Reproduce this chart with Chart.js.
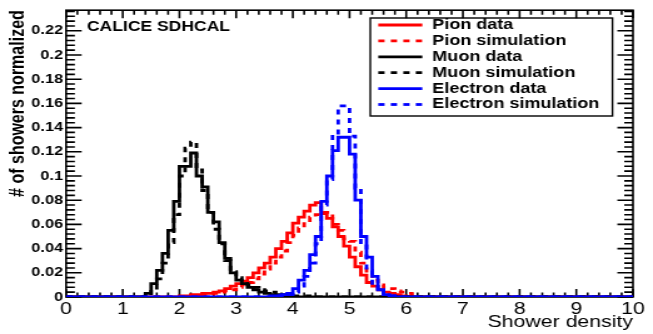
<!DOCTYPE html>
<html>
<head>
<meta charset="utf-8">
<script src="https://cdn.jsdelivr.net/npm/chart.js@4.4.1/dist/chart.umd.min.js"></script>
<style>
  html, body { margin: 0; padding: 0; background: #fff; overflow: hidden; }
</style>
</head>
<body>
<!-- the original picture is stretched sideways, so the canvas is drawn narrow and widened -->
<canvas id="chart" width="522" height="334" style="display:block;width:653px;height:334px"></canvas>
<script>
// histogram binning and axis ticks
const binWidth = 0.1;
const xMin = 0;
const xMax = 10;
const yMax = 0.237;
const xTicks = [0, 1, 2, 3, 4, 5, 6, 7, 8, 9, 10];
const yTicks = [0, 0.02, 0.04, 0.06, 0.08, 0.1, 0.12, 0.14, 0.16, 0.18, 0.2, 0.22];
const yTickLabels = ['0', '0.02', '0.04', '0.06', '0.08', '0.1', '0.12', '0.14', '0.16', '0.18', '0.2', '0.22'];
const xMinorStep = 0.2;
const yMinorStep = 0.004;

const seriesNames = ['Pion data', 'Pion simulation', 'Muon data', 'Muon simulation', 'Electron data', 'Electron simulation'];

// bin contents, first bin starts at the given x
const pionDataStart = 2.0;
const pionData = [0.001, 0.001, 0.002, 0.002, 0.003, 0.003, 0.004, 0.005, 0.007, 0.009,
                  0.011, 0.013, 0.016, 0.020, 0.024, 0.028, 0.033, 0.040, 0.046, 0.053,
                  0.061, 0.066, 0.071, 0.076, 0.078, 0.069, 0.065, 0.058, 0.050, 0.042,
                  0.033, 0.025, 0.018, 0.012, 0.009, 0.006, 0.004, 0.003, 0.002, 0.001];

const pionSimStart = 2.1;
const pionSim = [0.0005, 0.001, 0.001, 0.002, 0.002, 0.003, 0.004, 0.005, 0.006,
                 0.008, 0.010, 0.012, 0.015, 0.019, 0.023, 0.028, 0.033, 0.038, 0.045,
                 0.051, 0.057, 0.062, 0.066, 0.068, 0.070, 0.070, 0.060, 0.055, 0.048,
                 0.046, 0.037, 0.028, 0.020, 0.014, 0.010, 0.008, 0.007, 0.005, 0.004,
                 0.003, 0.002];

const muonDataStart = 1.4;
const muonData = [0.003, 0.011, 0.022, 0.036, 0.055, 0.079, 0.108, 0.108, 0.119, 0.100,
                  0.091, 0.070, 0.062, 0.045, 0.032, 0.020, 0.014, 0.011, 0.008, 0.006,
                  0.004, 0.003, 0.002, 0.002, 0.001, 0.001];

const muonSimStart = 1.4;
const muonSim = [0.001, 0.006, 0.015, 0.028, 0.045, 0.068, 0.100, 0.123, 0.128, 0.105,
                 0.088, 0.070, 0.056, 0.044, 0.030, 0.021, 0.016, 0.013, 0.010, 0.008,
                 0.006, 0.005, 0.004, 0.003, 0.002, 0.002, 0.001, 0.001, 0.001];

const electronDataStart = 3.6;
const electronData = [0.001, 0.001, 0.002, 0.003, 0.007, 0.014, 0.022, 0.035, 0.050, 0.079,
                      0.100, 0.121, 0.132, 0.132, 0.118, 0.080, 0.050, 0.033, 0.017, 0.006,
                      0.002, 0.001];

const electronSimStart = 3.7;
const electronSim = [0.001, 0.001, 0.002, 0.004, 0.009, 0.017, 0.028, 0.044, 0.076, 0.097,
                     0.134, 0.158, 0.158, 0.133, 0.090, 0.045, 0.022, 0.010, 0.004, 0.002,
                     0.001];

const font = 'Liberation Sans, Arial, Helvetica, sans-serif';

// bin contents -> step points over the whole axis (empty bins are 0)
function histPoints(start, values) {
  const nBins = Math.round((xMax - xMin) / binWidth);
  const first = Math.round((start - xMin) / binWidth);
  const pts = [];
  for (let i = 0; i < nBins; i++) {
    const k = i - first;
    pts.push({ x: +(xMin + i * binWidth).toFixed(2), y: (k >= 0 && k < values.length) ? values[k] : 0 });
  }
  pts.push({ x: xMax, y: 0 });
  return pts;
}

function histSet(name, start, values, color, dashed, order) {
  return {
    label: name,
    data: histPoints(start, values),
    borderColor: color,
    backgroundColor: color,
    borderWidth: 2.8,
    borderDash: dashed ? [5, 5] : [],
    borderCapStyle: 'butt',
    borderJoinStyle: 'miter',
    stepped: 'before',
    pointRadius: 0,
    fill: false,
    order: order
  };
}

// frame with ticks on all four sides, drawn under the histograms
const frameTicks = {
  id: 'frameTicks',
  beforeDatasetsDraw(chart) {
    const { ctx, chartArea: a, scales: { x, y } } = chart;
    ctx.save();
    ctx.strokeStyle = '#000';
    ctx.lineWidth = 1.6;
    ctx.strokeRect(a.left, a.top, a.right - a.left, a.bottom - a.top);
    ctx.beginPath();
    const nx = Math.round((xMax - xMin) / xMinorStep);
    for (let i = 0; i <= nx; i++) {
      const px = x.getPixelForValue(xMin + i * xMinorStep);
      const len = i % 5 === 0 ? 8 : 4.5;
      ctx.moveTo(px, a.bottom); ctx.lineTo(px, a.bottom - len);
      ctx.moveTo(px, a.top); ctx.lineTo(px, a.top + len);
    }
    for (let i = 0; i * yMinorStep <= yMax + 1e-9; i++) {
      const py = y.getPixelForValue(i * yMinorStep);
      const len = i % 5 === 0 ? 12.5 : 7;
      ctx.moveTo(a.left, py); ctx.lineTo(a.left + len, py);
      ctx.moveTo(a.right, py); ctx.lineTo(a.right - len, py);
    }
    ctx.stroke();
    ctx.restore();
  }
};

// boxed legend and the experiment label
const boxLegend = {
  id: 'boxLegend',
  afterDatasetsDraw(chart) {
    const ctx = chart.ctx;
    ctx.save();
    ctx.strokeStyle = '#000';
    ctx.lineWidth = 1.4;
    ctx.strokeRect(296, 18, 193.6, 98);
    ctx.font = 'bold 14.4px ' + font;
    ctx.textBaseline = 'middle';
    ctx.textAlign = 'left';
    chart.data.datasets.forEach((ds, i) => {
      const yy = 25 + i * 15.9;
      ctx.beginPath();
      ctx.strokeStyle = ds.borderColor;
      ctx.lineWidth = 2.8;
      ctx.setLineDash(ds.borderDash);
      ctx.moveTo(302.4, yy);
      ctx.lineTo(337.6, yy);
      ctx.stroke();
      ctx.setLineDash([]);
      ctx.fillStyle = '#000';
      ctx.fillText(ds.label, 345.6, yy);
    });
    ctx.font = 'bold 14px ' + font;
    ctx.textBaseline = 'alphabetic';
    ctx.fillText('CALICE SDHCAL', 69.5, 30.5);
    ctx.restore();
  }
};

const ctx = document.getElementById('chart').getContext('2d');
new Chart(ctx, {
  type: 'line',
  data: {
    datasets: [
      histSet(seriesNames[0], pionDataStart, pionData, '#ff0000', false, 6),
      histSet(seriesNames[1], pionSimStart, pionSim, '#ff0000', true, 5),
      histSet(seriesNames[2], muonDataStart, muonData, '#000000', false, 4),
      histSet(seriesNames[3], muonSimStart, muonSim, '#000000', true, 3),
      histSet(seriesNames[4], electronDataStart, electronData, '#0000ff', false, 2),
      histSet(seriesNames[5], electronSimStart, electronSim, '#0000ff', true, 1)
    ]
  },
  options: {
    responsive: false,
    devicePixelRatio: 1,
    animation: false,
    layout: { padding: { top: 9, right: 16, left: 0, bottom: 0 } },
    plugins: { legend: { display: false }, tooltip: { enabled: false } },
    scales: {
      x: {
        type: 'linear',
        min: xMin,
        max: xMax,
        afterBuildTicks: (axis) => { axis.ticks = xTicks.map(v => ({ value: v })); },
        afterFit: (axis) => { axis.height = 37; },
        grid: { display: false, drawTicks: false },
        border: { display: false },
        ticks: { autoSkip: false, maxRotation: 0, padding: 2, color: '#000', font: { family: font, size: 17 } },
        title: { display: true, text: 'Shower density', align: 'end', color: '#000',
                 font: { family: font, size: 17 }, padding: { top: 0, bottom: 1 } }
      },
      y: {
        type: 'linear',
        min: 0,
        max: yMax,
        afterBuildTicks: (axis) => { axis.ticks = yTicks.map(v => ({ value: v })); },
        afterFit: (axis) => { axis.width = 52.8; },
        grid: { display: false, drawTicks: false },
        border: { display: false },
        ticks: { autoSkip: false, padding: 2.4, color: '#000', font: { family: font, size: 13, weight: 'bold' },
                 callback: (v, i) => yTickLabels[i] },
        title: { display: true, text: '# of showers normalized', align: 'end', color: '#000',
                 font: { family: font, size: 16, weight: 'bold' }, padding: { top: 5, bottom: 0 } }
      }
    }
  },
  plugins: [frameTicks, boxLegend]
});
</script>
</body>
</html>
